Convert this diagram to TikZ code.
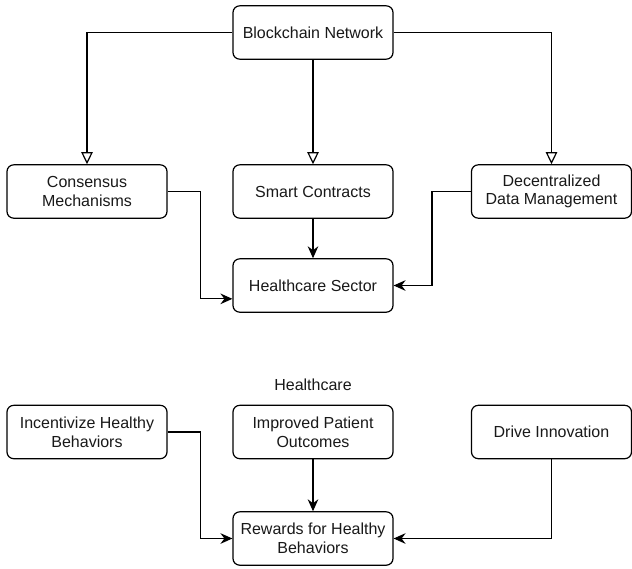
\documentclass[tikz,border=0pt]{standalone}
\usepackage{fontspec}
\setmainfont{Liberation Sans}
\usetikzlibrary{arrows.meta,calc}
\begin{document}
\begin{tikzpicture}[x=0.75pt,y=-0.75pt,
  box/.style={draw=black, line width=0.9pt, rounded corners=5pt, fill=white,
    minimum width=120pt, minimum height=40pt, align=center, inner sep=2pt,
    font=\fontsize{12}{14}\selectfont, text=black!90},
  openarrow/.style={draw=black, line width=0.9pt, -{Triangle[open,length=9pt,width=8.5pt]}},
  fillarrow/.style={draw=black, line width=0.9pt, -{Stealth[length=9pt,width=8pt,inset=3pt]}},
  lbl/.style={font=\fontsize{12}{14}\selectfont, text=black!90}]
\useasboundingbox (0,0) rectangle (632,568);
\fill[white] (0,0) rectangle (632,568);
% top section
\node[box] (bn) at (313,32.5) {Blockchain Network};
\node[box] (cm) at (87,191.5) {Consensus\\Mechanisms};
\node[box] (sc) at (313,191.5) {Smart Contracts};
\node[box] (dd) at (551.5,191.5) {Decentralized\\Data Management};
\node[box] (hs) at (313,285.5) {Healthcare Sector};
\draw[openarrow] (bn.west) -| (cm.north);
\draw[openarrow] (bn.south) -- (sc.north);
\draw[openarrow] (bn.east) -| (dd.north);
\draw[fillarrow] (sc.south) -- (hs.north);
\draw[fillarrow] (cm.east) -- ++(33,0) |- ([yshift=-10pt]hs.west);
\draw[fillarrow] (dd.west) -- ++(-39,0) |- (hs.east);
% bottom section
\node[lbl] (hl) at (313,385) {Healthcare};
\node[box] (ih) at (87,432) {Incentivize Healthy\\Behaviors};
\node[box] (ip) at (313,432) {Improved Patient\\Outcomes};
\node[box] (di) at (551.5,432) {Drive Innovation};
\node[box] (rw) at (313,538.5) {Rewards for Healthy\\Behaviors};
\draw[fillarrow] (ip.south) -- (rw.north);
\draw[fillarrow] (ih.east) -- ++(33,0) |- (rw.west);
\draw[fillarrow] (di.south) |- (rw.east);
\end{tikzpicture}
\end{document}
